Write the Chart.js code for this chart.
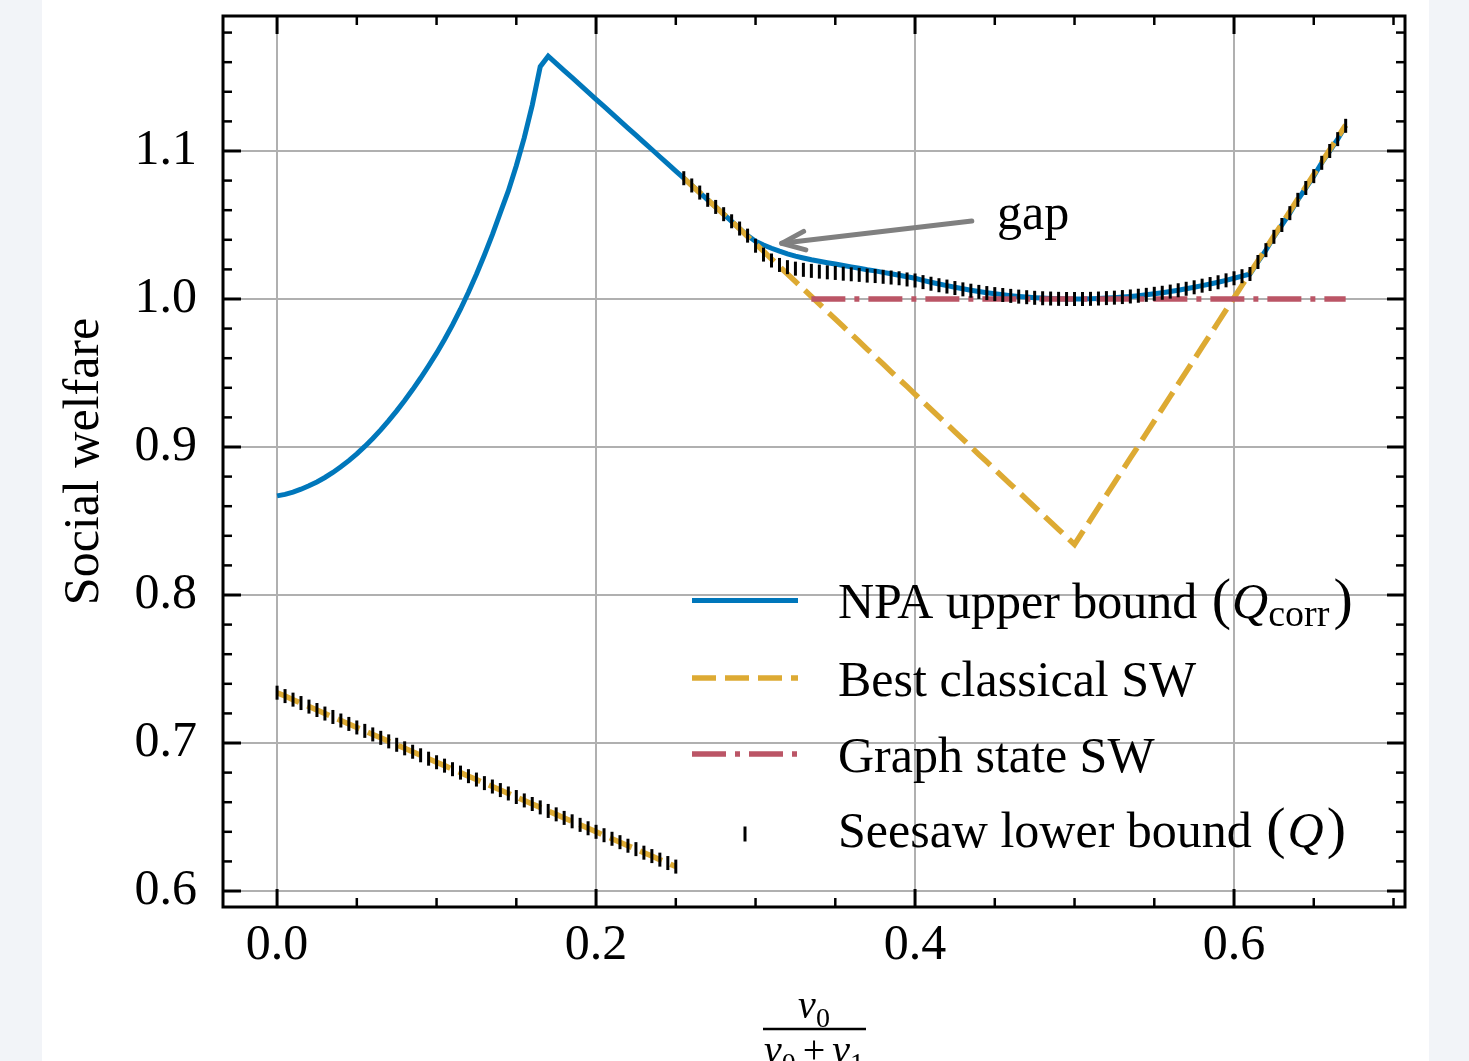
<!DOCTYPE html>
<html>
<head>
<meta charset="utf-8">
<script src="https://cdn.jsdelivr.net/npm/chart.js@4.4.1/dist/chart.umd.min.js"></script>
<style>
  html, body { margin: 0; padding: 0; background: #f2f4f8; }
  #card { position: absolute; left: 42px; top: 0; width: 1387px; height: 1061px; background: #fff; }
</style>
</head>
<body>
<div id="card"><canvas id="welfareChart" width="1387" height="1061"></canvas></div>
<script>
// x = v0 / (v0 + v1)
const ratio = [
    0, 0.005, 0.01, 0.015, 0.02, 0.025, 0.03, 0.035, 0.04, 0.045,
    0.05, 0.055, 0.06, 0.065, 0.07, 0.075, 0.08, 0.085, 0.09, 0.095,
    0.1, 0.105, 0.11, 0.115, 0.12, 0.125, 0.13, 0.135, 0.14, 0.145,
    0.15, 0.155, 0.16, 0.165, 0.17, 0.175, 0.18, 0.185, 0.19, 0.195,
    0.2, 0.205, 0.21, 0.215, 0.22, 0.225, 0.23, 0.235, 0.24, 0.245,
    0.25, 0.255, 0.26, 0.265, 0.27, 0.275, 0.28, 0.285, 0.29, 0.295,
    0.3, 0.305, 0.31, 0.315, 0.32, 0.325, 0.33, 0.335, 0.34, 0.345,
    0.35, 0.355, 0.36, 0.365, 0.37, 0.375, 0.38, 0.385, 0.39, 0.395,
    0.4, 0.405, 0.41, 0.415, 0.42, 0.425, 0.43, 0.435, 0.44, 0.445,
    0.45, 0.455, 0.46, 0.465, 0.47, 0.475, 0.48, 0.485, 0.49, 0.495,
    0.5, 0.505, 0.51, 0.515, 0.52, 0.525, 0.53, 0.535, 0.54, 0.545,
    0.55, 0.555, 0.56, 0.565, 0.57, 0.575, 0.58, 0.585, 0.59, 0.595,
    0.6, 0.605, 0.61, 0.615, 0.62, 0.625, 0.63, 0.635, 0.64, 0.645,
    0.65, 0.655, 0.66, 0.665, 0.67
];

const npaUpper = [
    0.867, 0.868, 0.8695, 0.8715, 0.8738, 0.8764, 0.8794, 0.8828, 0.8866, 0.8908,
    0.8954, 0.9004, 0.9058, 0.9116, 0.9178, 0.9244, 0.9314, 0.9388, 0.9466, 0.9548,
    0.9634, 0.9726, 0.9825, 0.9931, 1.0045, 1.0167, 1.0297, 1.0435, 1.0583, 1.073,
    1.090, 1.109, 1.131, 1.157, 1.164, 1.1592, 1.1543, 1.1495, 1.1446, 1.1398,
    1.1349, 1.1301, 1.1252, 1.1204, 1.1155, 1.1107, 1.1058, 1.101, 1.0961, 1.0913,
    1.0864, 1.0816, 1.0767, 1.0719, 1.067, 1.0622, 1.0573, 1.0525, 1.0476, 1.0428,
    1.039, 1.0365, 1.0343, 1.0323, 1.0305, 1.029, 1.0277, 1.0265, 1.0255, 1.0245,
    1.0236, 1.0226, 1.0217, 1.0208, 1.0198, 1.019, 1.018, 1.017, 1.016, 1.015,
    1.014, 1.0126, 1.0113, 1.0101, 1.009, 1.0079, 1.0069, 1.0059, 1.005, 1.0042,
    1.0035, 1.0028, 1.0022, 1.0017, 1.0013, 1.0009, 1.0006, 1.0003, 1.0001, 1.0,
    1.0, 1.0, 1.0001, 1.0003, 1.0006, 1.0009, 1.0013, 1.0017, 1.0022, 1.0028,
    1.0035, 1.0042, 1.005, 1.0059, 1.0069, 1.0079, 1.009, 1.0101, 1.0113, 1.0126,
    1.014, 1.0154, 1.0169, 1.025, 1.033, 1.042, 1.05, 1.058, 1.067, 1.075,
    1.083, 1.092, 1.1, 1.108, 1.117
];

const bestClassical = [
    0.734, 0.7317, 0.7293, 0.727, 0.7246, 0.7223, 0.7199, 0.7176, 0.7152, 0.7129,
    0.7105, 0.7082, 0.7058, 0.7035, 0.7011, 0.6988, 0.6964, 0.6941, 0.6917, 0.6894,
    0.687, 0.6847, 0.6823, 0.68, 0.6776, 0.6753, 0.6729, 0.6706, 0.6682, 0.6659,
    0.6635, 0.6612, 0.6588, 0.6565, 0.6541, 0.6518, 0.6494, 0.6471, 0.6447, 0.6424,
    0.64, 0.6377, 0.6353, 0.633, 0.6306, 0.6283, 0.6259, 0.6236, 0.6212, 0.6189,
    0.6165, 1.0816, 1.0767, 1.0719, 1.067, 1.0622, 1.0573, 1.0525, 1.0474, 1.0423,
    1.0372, 1.0322, 1.0271, 1.022, 1.0169, 1.0118, 1.0068, 1.0017, 0.9966, 0.9915,
    0.9865, 0.9814, 0.9763, 0.9712, 0.9661, 0.9611, 0.956, 0.9509, 0.9458, 0.9408,
    0.9357, 0.9306, 0.9255, 0.9204, 0.9154, 0.9103, 0.9052, 0.9001, 0.895, 0.89,
    0.8849, 0.8798, 0.8747, 0.8697, 0.8646, 0.8595, 0.8544, 0.8493, 0.8443, 0.8392,
    0.8341, 0.8425, 0.8508, 0.8592, 0.8675, 0.8758, 0.8842, 0.8925, 0.9008, 0.9092,
    0.9175, 0.9258, 0.9342, 0.9425, 0.9508, 0.9592, 0.9675, 0.9758, 0.9842, 0.9925,
    1.0008, 1.0092, 1.0175, 1.0258, 1.0342, 1.0425, 1.0508, 1.0592, 1.0675, 1.0758,
    1.0842, 1.0925, 1.1008, 1.1092, 1.1175
];

const graphState = [
    null, null, null, null, null, null, null, null, null, null,
    null, null, null, null, null, null, null, null, null, null,
    null, null, null, null, null, null, null, null, null, null,
    null, null, null, null, null, null, null, null, null, null,
    null, null, null, null, null, null, null, null, null, null,
    null, null, null, null, null, null, null, null, null, null,
    null, null, null, null, null, null, null, 1.0, 1.0, 1.0,
    1.0, 1.0, 1.0, 1.0, 1.0, 1.0, 1.0, 1.0, 1.0, 1.0,
    1.0, 1.0, 1.0, 1.0, 1.0, 1.0, 1.0, 1.0, 1.0, 1.0,
    1.0, 1.0, 1.0, 1.0, 1.0, 1.0, 1.0, 1.0, 1.0, 1.0,
    1.0, 1.0, 1.0, 1.0, 1.0, 1.0, 1.0, 1.0, 1.0, 1.0,
    1.0, 1.0, 1.0, 1.0, 1.0, 1.0, 1.0, 1.0, 1.0, 1.0,
    1.0, 1.0, 1.0, 1.0, 1.0, 1.0, 1.0, 1.0, 1.0, 1.0,
    1.0, 1.0, 1.0, 1.0, 1.0
];

const seesawLower = [
    0.734, 0.7317, 0.7293, 0.727, 0.7246, 0.7223, 0.7199, 0.7176, 0.7152, 0.7129,
    0.7105, 0.7082, 0.7058, 0.7035, 0.7011, 0.6988, 0.6964, 0.6941, 0.6917, 0.6894,
    0.687, 0.6847, 0.6823, 0.68, 0.6776, 0.6753, 0.6729, 0.6706, 0.6682, 0.6659,
    0.6635, 0.6612, 0.6588, 0.6565, 0.6541, 0.6518, 0.6494, 0.6471, 0.6447, 0.6424,
    0.64, 0.6377, 0.6353, 0.633, 0.6306, 0.6283, 0.6259, 0.6236, 0.6212, 0.6189,
    0.6165, 1.0816, 1.0767, 1.0719, 1.067, 1.0622, 1.0573, 1.0525, 1.0476, 1.0428,
    1.036, 1.030, 1.026, 1.023, 1.0215, 1.0205, 1.0197, 1.019, 1.0185, 1.018,
    1.0176, 1.0171, 1.0167, 1.0163, 1.0158, 1.0155, 1.015, 1.0145, 1.014, 1.0132,
    1.0125, 1.0114, 1.0103, 1.0093, 1.0084, 1.0074, 1.0065, 1.0056, 1.0048, 1.004,
    1.0033, 1.0027, 1.0021, 1.0016, 1.0012, 1.0008, 1.0005, 1.0003, 1.0001, 1.0,
    1.0, 1.0, 1.0001, 1.0003, 1.0006, 1.0009, 1.0013, 1.0017, 1.0022, 1.0028,
    1.0035, 1.0042, 1.005, 1.0059, 1.0069, 1.0079, 1.009, 1.0101, 1.0113, 1.0126,
    1.014, 1.0154, 1.0169, 1.025, 1.033, 1.042, 1.05, 1.058, 1.067, 1.075,
    1.083, 1.092, 1.1, 1.108, 1.117
];

const xTicks = [0, 0.2, 0.4, 0.6];
const yTicks = [0.6, 0.7, 0.8, 0.9, 1.0, 1.1];

// the classical curve jumps between these two indices
const classicalBreak = 50;

// arrow tip, arrow tail, text position (data coords)
const gapTip = [0.3164, 1.0376];
const gapTail = [0.4356, 1.0527];
const gapText = [0.4514, 1.0473];

const BLUE = "#0077BB", YELLOW = "#DDAA33", RED = "#BB5566";
const SERIF = "'Liberation Serif', 'Times New Roman', serif";

Chart.defaults.font.family = SERIF;
Chart.defaults.color = "#000";

const points = vals => ratio.map((x, i) => ({ x: x, y: vals[i] }));

function strokeLine(ctx, x1, y1, x2, y2) {
    ctx.beginPath();
    ctx.moveTo(x1, y1);
    ctx.lineTo(x2, y2);
    ctx.stroke();
}

// text made of pieces, each with its own font and baseline shift
function drawPieces(ctx, pieces, x, baseline) {
    pieces.forEach(p => {
        x += p.pre || 0;
        ctx.font = p.font;
        ctx.fillText(p.t, x, baseline + (p.dy || 0));
        x += ctx.measureText(p.t).width + (p.gap || 0);
    });
    return x;
}
function piecesWidth(ctx, pieces) {
    let w = 0;
    pieces.forEach(p => { ctx.font = p.font; w += (p.pre || 0) + ctx.measureText(p.t).width + (p.gap || 0); });
    return w;
}

// inward ticks on all 4 sides + frame
const frameTicks = {
    id: "frameTicks",
    afterDatasetsDraw(chart) {
        const { ctx, chartArea: a, scales: { x, y } } = chart;
        ctx.save();
        ctx.strokeStyle = "#000";
        ctx.lineCap = "butt";
        for (let k = -2; k <= 16; k++) {
            const v = k * 0.05;
            if (v < x.min || v > x.max) continue;
            const major = xTicks.some(t => Math.abs(t - v) < 1e-6);
            const len = major ? 18 : 9;
            ctx.lineWidth = major ? 3 : 2.5;
            const p = x.getPixelForValue(v);
            strokeLine(ctx, p, a.bottom, p, a.bottom - len);
            strokeLine(ctx, p, a.top, p, a.top + len);
        }
        for (let k = 28; k <= 61; k++) {
            const v = k * 0.02;
            if (v < y.min || v > y.max) continue;
            const major = yTicks.some(t => Math.abs(t - v) < 1e-6);
            const len = major ? 18 : 9;
            ctx.lineWidth = major ? 3 : 2.5;
            const p = y.getPixelForValue(v);
            strokeLine(ctx, a.left, p, a.left + len, p);
            strokeLine(ctx, a.right, p, a.right - len, p);
        }
        ctx.lineWidth = 3;
        ctx.strokeRect(a.left, a.top, a.right - a.left, a.bottom - a.top);
        ctx.restore();
    }
};

// "gap" arrow annotation
const gapNote = {
    id: "gapNote",
    afterDatasetsDraw(chart) {
        const { ctx, scales: { x, y } } = chart;
        const tx = x.getPixelForValue(gapTip[0]), ty = y.getPixelForValue(gapTip[1]);
        const sx = x.getPixelForValue(gapTail[0]), sy = y.getPixelForValue(gapTail[1]);
        const ang = Math.atan2(sy - ty, sx - tx);
        const head = 25, spread = 22 * Math.PI / 180;
        ctx.save();
        ctx.strokeStyle = "#808080";
        ctx.lineWidth = 5;
        ctx.lineCap = "round";
        ctx.lineJoin = "round";
        strokeLine(ctx, sx, sy, tx, ty);
        ctx.beginPath();
        ctx.moveTo(tx + head * Math.cos(ang - spread), ty + head * Math.sin(ang - spread));
        ctx.lineTo(tx, ty);
        ctx.lineTo(tx + head * Math.cos(ang + spread), ty + head * Math.sin(ang + spread));
        ctx.stroke();
        ctx.fillStyle = "#000";
        ctx.font = "50px " + SERIF;
        ctx.textAlign = "left";
        ctx.textBaseline = "alphabetic";
        ctx.fillText("gap", x.getPixelForValue(gapText[0]), y.getPixelForValue(gapText[1]));
        ctx.restore();
    }
};

// legend and x-axis fraction label
const legendAndLabel = {
    id: "legendAndLabel",
    afterDraw(chart) {
        const ctx = chart.ctx;
        const ds = chart.data.datasets;
        const rm = "50px " + SERIF, it = "italic 50px " + SERIF, par = "58px " + SERIF;
        const rows = [
            [{ t: "NPA upper bound ", font: rm }, { t: "(", font: par, pre: 2, gap: 1 }, { t: "Q", font: it },
             { t: "corr", font: "38px " + SERIF, dy: 8, gap: 4 }, { t: ")", font: par }],
            [{ t: "Best classical SW", font: rm }],
            [{ t: "Graph state SW", font: rm }],
            [{ t: "Seesaw lower bound ", font: rm }, { t: "(", font: par, pre: 2, gap: 2 }, { t: "Q", font: it, gap: 3 }, { t: ")", font: par }]
        ];
        const baselines = [618, 695.5, 771.5, 847];
        const x0 = 650, x1 = 756, tx = 796;
        ctx.save();
        ctx.fillStyle = "#000";
        ctx.textAlign = "left";
        ctx.textBaseline = "alphabetic";
        rows.forEach((row, i) => {
            const d = ds[i];
            const b = baselines[i];
            if (i < 3) {
                ctx.strokeStyle = d.borderColor;
                ctx.lineWidth = d.borderWidth;
                ctx.lineCap = "butt";
                ctx.setLineDash(d.borderDash || []);
                strokeLine(ctx, x0, b - 17.5, x1, b - 17.5);
                ctx.setLineDash([]);
            } else {
                ctx.strokeStyle = d.pointBorderColor;
                ctx.lineWidth = d.pointBorderWidth;
                strokeLine(ctx, (x0 + x1) / 2, b - 20.5, (x0 + x1) / 2, b - 5.5);
            }
            drawPieces(ctx, row, tx, b);
        });

        // x label: v0 / (v0 + v1)
        const cx = 772;
        const vi = "italic 40px " + SERIF, sub = "28px " + SERIF, up = "40px " + SERIF;
        const num = [{ t: "v", font: vi }, { t: "0", font: sub, dy: 9 }];
        const den = [{ t: "v", font: vi }, { t: "0", font: sub, dy: 9, gap: 7 }, { t: "+", font: up, gap: 7 },
                     { t: "v", font: vi }, { t: "1", font: sub, dy: 9 }];
        drawPieces(ctx, num, cx - piecesWidth(ctx, num) / 2, 1018);
        drawPieces(ctx, den, cx - piecesWidth(ctx, den) / 2, 1063);
        ctx.strokeStyle = "#000";
        ctx.lineWidth = 2.7;
        strokeLine(ctx, 721, 1029, 824, 1029);
        ctx.restore();
    }
};

new Chart(document.getElementById("welfareChart").getContext("2d"), {
    type: "line",
    data: {
        datasets: [{
            label: "NPA upper bound (Q_corr)",
            data: points(npaUpper),
            borderColor: BLUE,
            borderWidth: 5,
            pointRadius: 0,
            order: 4
        }, {
            label: "Best classical SW",
            data: points(bestClassical),
            borderColor: YELLOW,
            borderWidth: 5.5,
            borderDash: [24, 9],
            borderCapStyle: "butt",
            pointRadius: 0,
            segment: {
                borderColor: c => c.p0DataIndex === classicalBreak ? "rgba(0,0,0,0)" : YELLOW
            },
            order: 3
        }, {
            label: "Graph state SW",
            data: points(graphState),
            borderColor: RED,
            borderWidth: 5.5,
            borderDash: [34, 9, 5, 9],
            borderCapStyle: "butt",
            pointRadius: 0,
            order: 2
        }, {
            label: "Seesaw lower bound (Q)",
            data: points(seesawLower),
            showLine: false,
            pointStyle: "line",
            pointRotation: 90,
            pointRadius: 7,
            pointBorderWidth: 3,
            pointBorderColor: "#000",
            pointBackgroundColor: "#000",
            order: 1
        }]
    },
    options: {
        responsive: false,
        animation: false,
        events: [],
        layout: { padding: { top: 16, right: 24, left: 0, bottom: 0 } },
        plugins: {
            legend: { display: false },
            tooltip: { enabled: false }
        },
        scales: {
            x: {
                type: "linear",
                min: -0.0339,
                max: 0.7072,
                afterBuildTicks: s => { s.ticks = xTicks.map(v => ({ value: v })); },
                afterFit: s => { s.height = 154; s.paddingLeft = 0; s.paddingRight = 0; },
                ticks: {
                    callback: v => v.toFixed(1),
                    font: { size: 50 },
                    color: "#000",
                    padding: 9,
                    maxRotation: 0,
                    autoSkip: false
                },
                grid: { color: "#b0b0b0", lineWidth: 2, drawTicks: false },
                border: { display: false }
            },
            y: {
                min: 0.5892,
                max: 1.1912,
                afterBuildTicks: s => { s.ticks = yTicks.map(v => ({ value: v })); },
                afterFit: s => { s.width = 181; s.paddingTop = 0; s.paddingBottom = 0; },
                ticks: {
                    callback: v => v.toFixed(1),
                    font: { size: 50 },
                    color: "#000",
                    padding: 26,
                    autoSkip: false
                },
                title: {
                    display: true,
                    text: "Social welfare",
                    font: { size: 50 },
                    color: "#000",
                    padding: { top: 13, bottom: 0 }
                },
                grid: { color: "#b0b0b0", lineWidth: 2, drawTicks: false },
                border: { display: false }
            }
        }
    },
    plugins: [frameTicks, gapNote, legendAndLabel]
});
</script>
</body>
</html>
